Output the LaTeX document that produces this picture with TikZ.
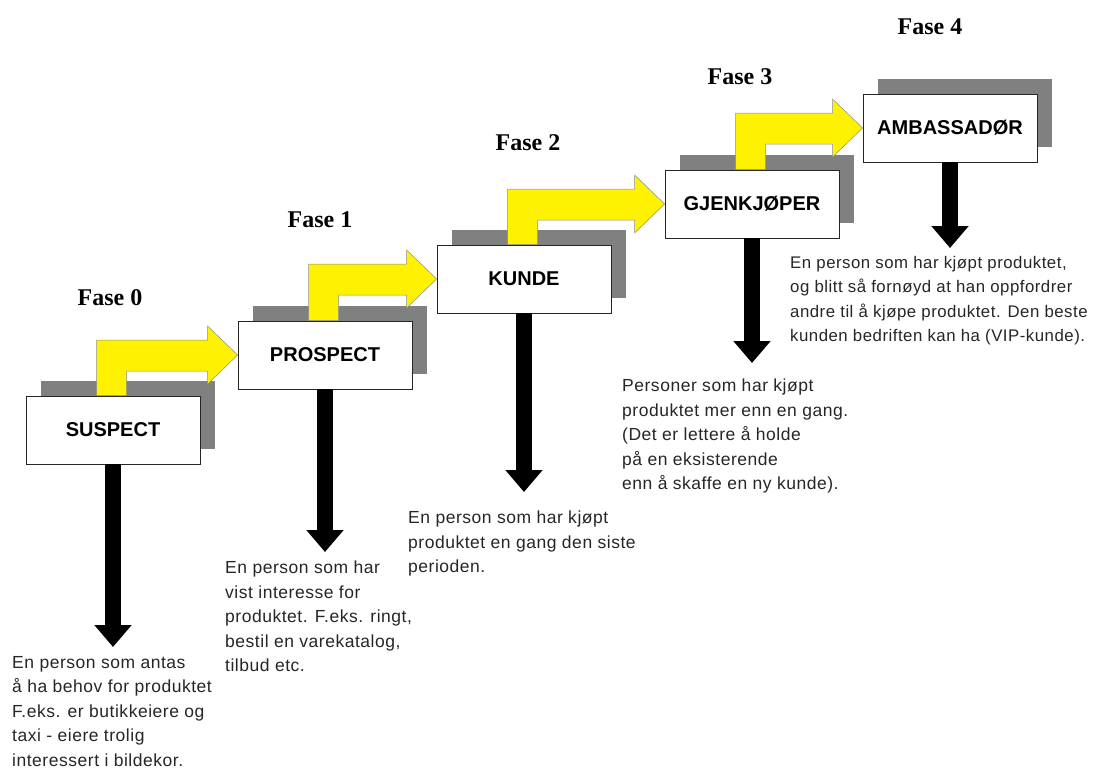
\documentclass[tikz,border=0pt]{standalone}
\usepackage{fontspec}
\setmainfont{Liberation Sans}
\newfontfamily\fasefont{Liberation Serif}
\newfontfamily\descfont[LetterSpace=3]{Liberation Sans}
\usetikzlibrary{arrows.meta,calc,backgrounds}
\definecolor{shadowgray}{RGB}{128,128,128}
\begin{document}
\begin{tikzpicture}[x=1pt,y=-1pt,
  box/.style={draw=black!85,line width=0.8pt,fill=white,minimum width=174pt,minimum height=68pt,inner sep=0pt,font=\bfseries\fontsize{20}{22}\selectfont},
  fase/.style={font=\fasefont\bfseries\fontsize{24}{28}\selectfont},
  desc/.style={anchor=north west,align=left,inner sep=0pt,font=\descfont\fontsize{17.5}{24.5}\selectfont,text=black!85},
  yarrow/.style={fill=yellow,draw=black!45,line width=0.5pt},
  darrow/.style={line width=16pt,-{Triangle[width=36pt,length=22pt]}}
]
\useasboundingbox (0,0) rectangle (1096,769);
% boxes
\node[box] (s0) at (113,430) {SUSPECT};
\node[box] (s1) at (325,355) {PROSPECT};
\node[box] (s2) at (524,279) {KUNDE};
\node[box] (s3) at (752,204) {GJENKJØPER};
\node[box] (s4) at (950,128) {AMBASSADØR};
% shadows and yellow arrows
\begin{scope}[on background layer]
\foreach \n in {s0,s1,s2,s3,s4}{
  \fill[shadowgray] ([shift={(15pt,15pt)}]\n.south west) rectangle ([shift={(15pt,15pt)}]\n.north east);
}
\foreach \a/\b in {s0/s1,s1/s2,s2/s3,s3/s4}{
  \draw[yarrow] ($(\a.north west)+(71,0)$) |- ($(\b.west)+(-30,-15)$) -- ++(0,-14) -- (\b.west) -- ++(-30,29) -- ++(0,-13) -| ($(\a.north west)+(101,0)$) -- cycle;
}
\end{scope}
% phase labels
\node[fase] (f0) at (110,298) {Fase 0};
\node[fase] (f1) at (320,220) {Fase 1};
\node[fase] (f2) at (528,143) {Fase 2};
\node[fase] (f3) at (740,77) {Fase 3};
\node[fase] (f4) at (930,27) {Fase 4};
% down arrows
\coordinate (t0) at (113,647);
\coordinate (t1) at (325,552);
\coordinate (t2) at (524,492);
\coordinate (t3) at (752,363);
\coordinate (t4) at (950,248);
\draw[darrow] (s0.south) -- (t0);
\draw[darrow] (s1.south) -- (t1);
\draw[darrow] (s2.south) -- (t2);
\draw[darrow] (s3.south) -- (t3);
\draw[darrow] (s4.south) -- (t4);
% descriptions
\node[desc] (d0) at (12,656) {En person som antas\\å ha behov for produktet\\F.eks. er butikkeiere og\\taxi - eiere trolig\\interessert i bildekor.};
\node[desc] (d1) at (225,561) {En person som har\\vist interesse for\\produktet. F.eks. ringt,\\bestil en varekatalog,\\tilbud etc.};
\node[desc] (d2) at (408,511) {En person som har kjøpt\\produktet en gang den siste\\perioden.};
\node[desc] (d3) at (622,379) {Personer som har kjøpt\\produktet mer enn en gang.\\(Det er lettere å holde\\på en eksisterende\\enn å skaffe en ny kunde).};
\node[desc,font=\descfont\fontsize{16.8}{24.5}\selectfont] (d4) at (790,256) {En person som har kjøpt produktet,\\og blitt så fornøyd at han oppfordrer\\andre til å kjøpe produktet. Den beste\\kunden bedriften kan ha (VIP-kunde).};
\end{tikzpicture}
\end{document}
